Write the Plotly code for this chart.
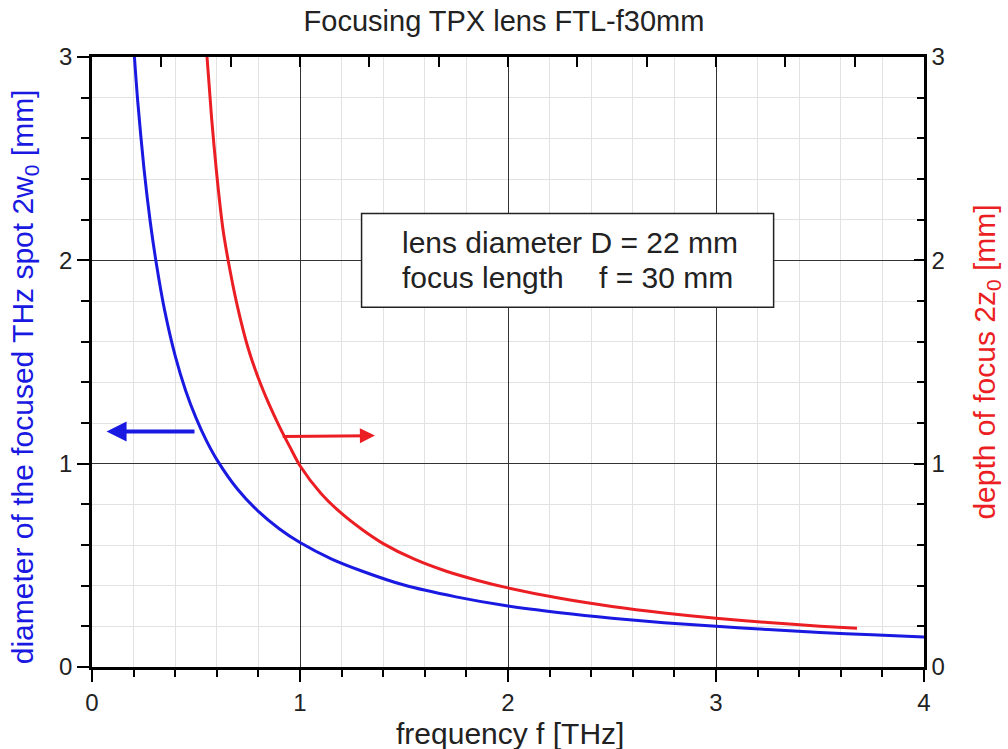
import plotly.graph_objects as go

# ---- data ----
spot_f = [0.204, 0.22, 0.25, 0.28, 0.31, 0.35, 0.40, 0.45, 0.50, 0.55, 0.60,
          0.70, 0.80, 0.90, 1.00, 1.15, 1.30, 1.50, 1.75, 2.00, 2.25, 2.50,
          2.75, 3.00, 3.25, 3.50, 3.75, 4.00]
spot_d = [3.00, 2.78, 2.45, 2.19, 1.98, 1.75, 1.53, 1.36, 1.225, 1.113, 1.02,
          0.874, 0.765, 0.68, 0.612, 0.532, 0.471, 0.403, 0.345, 0.300, 0.267, 0.240,
          0.218, 0.200, 0.184, 0.170, 0.158, 0.148]

dof_f = [0.553, 0.575, 0.60, 0.63, 0.66, 0.70, 0.75, 0.80, 0.85, 0.90, 0.95, 1.00,
         1.10, 1.20, 1.30, 1.40, 1.55, 1.70, 1.85, 2.00, 2.25, 2.50, 2.75, 3.00,
         3.25, 3.50, 3.678]
dof_z = [3.00, 2.70, 2.42, 2.15, 1.97, 1.77, 1.57, 1.42, 1.295, 1.185, 1.085, 0.99,
         0.855, 0.755, 0.675, 0.607, 0.530, 0.472, 0.427, 0.389, 0.338, 0.298, 0.266, 0.240,
         0.219, 0.201, 0.190]

x_major_ticks = [0, 1, 2, 3, 4]
y_major_ticks = [0, 1, 2, 3]
top_ticks = [0, 0.3333, 0.6667, 1, 1.3333, 1.6667, 2, 2.3333, 2.6667, 3, 3.3333, 3.6667, 4]

title_text = "Focusing TPX lens FTL-f30mm"
x_title = "frequency f [THz]"
y_title = "diameter of the focused THz spot 2w<sub>0</sub> [mm]"
y2_title = "depth of focus 2z<sub>0</sub> [mm]"
box_line1 = "lens diameter D = 22 mm"
box_line2a = "focus length"
box_line2b = "f = 30 mm"

BLUE = "rgb(25,25,225)"
RED = "rgb(235,30,35)"
FONT = "Liberation Sans, Arial, sans-serif"

fig = go.Figure()
fig.add_trace(go.Scatter(x=spot_f, y=spot_d, mode="lines",
                         line=dict(color=BLUE, width=3, shape="spline", smoothing=0.8),
                         showlegend=False, xaxis="x", yaxis="y"))
fig.add_trace(go.Scatter(x=dof_f, y=dof_z, mode="lines",
                         line=dict(color=RED, width=3, shape="spline", smoothing=0.8),
                         showlegend=False, xaxis="x", yaxis="y2"))
# helper trace so the top axis is drawn
fig.add_trace(go.Scatter(x=[None], y=[None], xaxis="x2", yaxis="y", showlegend=False, hoverinfo="skip"))

axis_common = dict(showline=True, linecolor="black", linewidth=2.5, zeroline=False,
                   tickfont=dict(family=FONT, size=24, color="#222"), tickcolor="black", tickwidth=2)

fig.update_layout(
    width=1008, height=749,
    margin=dict(l=92, r=84, t=57, b=82),
    paper_bgcolor="white", plot_bgcolor="white",
    font=dict(family=FONT, color="#222"),
    title=dict(text=title_text, x=0.5, xanchor="center", y=0.972, yanchor="middle",
               font=dict(family=FONT, size=29, color="#222")),
    xaxis=dict(range=[0, 4], tickvals=x_major_ticks, ticks="outside", ticklen=12,
               showgrid=True, gridcolor="#333", gridwidth=1,
               minor=dict(dtick=0.2, ticks="outside", ticklen=7, tickcolor="black", tickwidth=2,
                          showgrid=True, gridcolor="#e2e2e2", gridwidth=1),
               **axis_common),
    xaxis2=dict(range=[0, 4], overlaying="x", side="top", tickvals=top_ticks, ticks="inside",
                ticklen=10, showticklabels=False, showgrid=False, showline=True,
                linecolor="black", linewidth=2.5, tickcolor="black", tickwidth=2, zeroline=False),
    yaxis=dict(range=[0, 3], tickvals=y_major_ticks, ticks="outside", ticklen=12,
               showgrid=True, gridcolor="#333", gridwidth=1,
               minor=dict(dtick=0.2, ticks="outside", ticklen=8, tickcolor="black", tickwidth=2,
                          showgrid=True, gridcolor="#e2e2e2", gridwidth=1),
               **axis_common),
    yaxis2=dict(range=[0, 3], overlaying="y", side="right", tickvals=y_major_ticks, ticks="inside",
                ticklen=10, showgrid=False,
                minor=dict(dtick=0.2, ticks="inside", ticklen=7, tickcolor="black", tickwidth=2),
                **axis_common),
)

# text box
fig.add_shape(type="rect", xref="x", yref="y", x0=1.296, x1=3.277, y0=1.769, y1=2.23,
              fillcolor="white", line=dict(color="#222", width=1.5), layer="above")
box_font = dict(family=FONT, size=30, color="#222")
fig.add_annotation(x=1.48, y=2.088, xref="x", yref="y", text=box_line1, showarrow=False,
                   xanchor="left", yanchor="middle", font=box_font)
fig.add_annotation(x=1.48, y=1.916, xref="x", yref="y", text=box_line2a, showarrow=False,
                   xanchor="left", yanchor="middle", font=box_font)
fig.add_annotation(x=2.427, y=1.916, xref="x", yref="y", text=box_line2b, showarrow=False,
                   xanchor="left", yanchor="middle", font=box_font)

# arrows pointing to the axes
fig.add_annotation(x=0.07, y=1.158, ax=0.50, ay=1.158, xref="x", yref="y", axref="x", ayref="y",
                   text="", showarrow=True, arrowhead=2, arrowsize=1, arrowwidth=4, arrowcolor=BLUE)
fig.add_annotation(x=1.36, y=1.138, ax=0.91, ay=1.134, xref="x", yref="y", axref="x", ayref="y",
                   text="", showarrow=True, arrowhead=2, arrowsize=1, arrowwidth=3, arrowcolor=RED)

# axis titles
fig.add_annotation(x=0.502, y=-0.109, xref="paper", yref="paper", text=x_title, showarrow=False,
                   xanchor="center", yanchor="middle", font=dict(family=FONT, size=30, color="#222"))
fig.add_annotation(x=-0.081, y=0.476, xref="paper", yref="paper", text=y_title, showarrow=False,
                   textangle=-90, xanchor="center", yanchor="middle",
                   font=dict(family=FONT, size=30, color=BLUE))
fig.add_annotation(x=1.074, y=0.5, xref="paper", yref="paper", text=y2_title, showarrow=False,
                   textangle=-90, xanchor="center", yanchor="middle",
                   font=dict(family=FONT, size=30, color=RED))

fig.write_html("out.html")
